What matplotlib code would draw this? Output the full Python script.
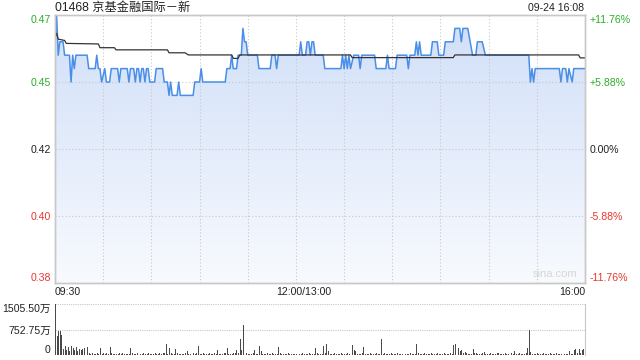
import numpy as np
import matplotlib
matplotlib.use("Agg")
import matplotlib.pyplot as plt
import matplotlib.transforms as mtransforms
from matplotlib.colors import LinearSegmentedColormap

plt.rcParams["font.family"] = ["Liberation Sans", "Noto Sans CJK SC", "DejaVu Sans"]

TITLE = "01468 京基金融国际－新"
STAMP = "09-24 16:08"

# minutes since 09:30 (lunch removed, 330 = 16:00) and price at each turning point
price_min = [0, 1, 2, 3, 5, 6, 9, 10, 11, 12, 13, 20, 21, 25, 26, 27, 28, 29, 31, 32,
             34, 35, 39, 40, 41, 45, 46, 47, 49, 50, 51, 52, 53, 54, 55, 56, 57, 58, 59, 62,
             63, 67, 68, 70, 71, 72, 73, 76, 77, 78, 86, 87, 90, 91, 92, 106, 107, 109, 110, 111,
             113, 114, 116, 117, 118, 119, 120, 126, 127, 134, 135, 137, 138, 139, 152, 153, 154, 156, 157, 158,
             159, 160, 161, 162, 167, 168, 178, 179, 180, 181, 182, 183, 184, 186, 189, 190, 191, 199, 200, 206,
             207, 208, 212, 213, 219, 220, 221, 224, 225, 226, 227, 228, 234, 235, 238, 239, 242, 243, 248, 249,
             252, 253, 254, 257, 260, 262, 263, 266, 268, 295, 296, 297, 298, 299, 314, 315, 316, 318, 319, 320,
             322, 323, 330]
price_val = [0.465, 0.475, 0.46, 0.465, 0.465, 0.46, 0.46, 0.45, 0.46, 0.455, 0.46, 0.46, 0.455, 0.455, 0.46, 0.455, 0.455, 0.45, 0.455, 0.45,
             0.45, 0.455, 0.455, 0.45, 0.455, 0.455, 0.45, 0.455, 0.455, 0.45, 0.455, 0.455, 0.45, 0.455, 0.455, 0.45, 0.455, 0.455, 0.45, 0.45,
             0.455, 0.455, 0.45, 0.45, 0.445, 0.45, 0.445, 0.445, 0.45, 0.445, 0.445, 0.45, 0.45, 0.455, 0.45, 0.45, 0.455, 0.455, 0.46, 0.455,
             0.455, 0.46, 0.46, 0.47, 0.465, 0.465, 0.46, 0.46, 0.455, 0.455, 0.46, 0.46, 0.455, 0.46, 0.46, 0.465, 0.46, 0.46, 0.465, 0.465,
             0.46, 0.465, 0.465, 0.46, 0.46, 0.455, 0.455, 0.46, 0.455, 0.46, 0.455, 0.46, 0.455, 0.46, 0.46, 0.455, 0.46, 0.46, 0.455, 0.455,
             0.46, 0.455, 0.455, 0.46, 0.46, 0.455, 0.46, 0.46, 0.465, 0.46, 0.465, 0.46, 0.46, 0.465, 0.465, 0.46, 0.46, 0.465, 0.465, 0.47,
             0.47, 0.465, 0.47, 0.47, 0.46, 0.46, 0.465, 0.465, 0.46, 0.46, 0.45, 0.455, 0.45, 0.455, 0.455, 0.45, 0.455, 0.455, 0.45, 0.455,
             0.45, 0.455, 0.455]

# average price line
avg_min = [0, 1, 2, 6, 7, 27, 28, 37, 38, 70, 71, 81, 83, 110, 111, 114, 115, 184, 185, 248,
           249, 326, 327, 330]
avg_val = [0.4665, 0.4682, 0.466, 0.4655, 0.4644, 0.4642, 0.4628, 0.4628, 0.462, 0.462, 0.4609, 0.4609, 0.4601, 0.4601, 0.4588, 0.4588, 0.4601, 0.4601, 0.4591, 0.4591,
           0.4601, 0.4601, 0.459, 0.459]

# volume per minute, 万股
volume = [
    1505.5, 570, 717, 717, 590, 180, 275, 150, 240, 120, 260, 200, 150, 230, 110, 190, 140, 170, 200, 120, 230, 60, 35, 45, 30, 40, 55, 35, 216, 40,
    45, 30, 60, 35, 245, 50, 30, 40, 25, 35, 50, 30, 45, 25, 40, 35, 30, 200, 60, 35, 30, 45, 25, 40, 35, 50, 30, 25, 45, 35,
    40, 30, 55, 35, 25, 45, 30, 50, 60, 325, 40, 200, 45, 30, 35, 180, 50, 30, 40, 35, 25, 45, 120, 30, 40, 35, 50, 30, 45, 265,
    40, 30, 45, 35, 25, 40, 50, 30, 35, 45, 30, 140, 40, 35, 30, 45, 60, 215, 40, 30, 35, 50, 45, 150, 70, 480, 160, 885, 130, 50,
    40, 35, 30, 45, 140, 30, 40, 275, 130, 35, 40, 30, 45, 35, 30, 50, 40, 35, 30, 225, 45, 30, 35, 40, 30, 45, 35, 30, 40, 35,
    30, 45, 40, 35, 50, 30, 40, 35, 45, 30, 35, 40, 200, 45, 30, 35, 40, 275, 50, 315, 120, 40, 35, 30, 45, 40, 35, 30, 45, 40,
    35, 30, 45, 40, 35, 295, 160, 110, 40, 35, 30, 45, 235, 40, 35, 30, 45, 40, 35, 30, 45, 40, 35, 480, 30, 45, 40, 35, 30, 45,
    40, 35, 30, 45, 40, 35, 30, 45, 40, 35, 30, 45, 40, 35, 30, 325, 45, 40, 35, 30, 45, 40, 35, 30, 45, 40, 35, 30, 45, 40,
    35, 30, 45, 40, 35, 30, 45, 40, 295, 325, 60, 215, 130, 150, 50, 100, 45, 40, 35, 30, 175, 45, 60, 40, 35, 30, 45, 80, 40, 35,
    30, 45, 40, 35, 30, 45, 60, 40, 35, 30, 45, 40, 35, 30, 45, 40, 118, 35, 30, 45, 40, 35, 30, 45, 206, 740, 100, 40, 35, 30,
    45, 40, 35, 30, 45, 40, 35, 30, 45, 40, 35, 30, 45, 40, 35, 30, 45, 40, 35, 30, 120, 40, 35, 150, 180, 60, 170, 45, 150, 180, 60,
]

price_ticks = [0.375, 0.40, 0.425, 0.45, 0.475]
price_labels = ["0.38", "0.40", "0.42", "0.45", "0.47"]
pct_labels = ["-11.76%", "-5.88%", "0.00%", "+5.88%", "+11.76%"]
tick_colors = ["#e8382f", "#e8382f", "#222222", "#2aae2a", "#2aae2a"]
time_ticks = [0, 150, 330]
time_labels = ["09:30", "12:00/13:00", "16:00"]
vol_ticks = [0, 752.75, 1505.5]
vol_labels = ["0", "752.75万", "1505.50万"]

GRID = "#c8c8c8"
W, H = 640, 360


def draw_price(ax):
    ax.set_xlim(0, 330)
    ax.set_ylim(price_ticks[0], price_ticks[-1])

    for m in range(30, 330, 30):
        ax.axvline(m, color=GRID, lw=0.8, ls=(0, (1, 2)), zorder=1)
    for y in price_ticks[1:-1]:
        ax.axhline(y, color=GRID, lw=0.8, ls=(0, (1, 2)), zorder=1)

    # gradient area under price line
    poly = ax.fill_between(price_min, price_val, price_ticks[0], facecolor="none", edgecolor="none")
    cmap = LinearSegmentedColormap.from_list("fill", ["#f8fafe", "#d0dff8"])
    grad = np.linspace(1, 0, 256).reshape(-1, 1)
    im = ax.imshow(grad, extent=[0, 330, price_ticks[0], price_ticks[-1]], aspect="auto",
                   cmap=cmap, origin="upper", zorder=0.5)
    im.set_clip_path(poly.get_paths()[0], transform=ax.transData)

    ax.plot(price_min, price_val, color="#4a8ee8", lw=1.1, zorder=3)
    ax.plot(avg_min, avg_val, color="#333333", lw=0.9, zorder=4)

    ax.set_xlim(0, 330)
    ax.set_ylim(price_ticks[0], price_ticks[-1])

    ax.set_yticks(price_ticks, price_labels)
    ax.tick_params(axis="y", length=0, pad=3, labelsize=7.6)
    for lab, c in zip(ax.get_yticklabels(), tick_colors):
        lab.set_color(c)
    ax.get_yticklabels()[0].set_va("bottom")
    ax.get_yticklabels()[-1].set_va("top")

    ax.set_xticks(time_ticks, time_labels)
    ax.tick_params(axis="x", length=0, pad=3, labelsize=7.6, colors="#222222")
    xl = ax.get_xticklabels()
    xl[0].set_ha("left")
    xl[-1].set_ha("right")
    # the lunch label sits a little right of the 12:00 line
    shift = mtransforms.ScaledTranslation(8 / 100, 0, ax.figure.dpi_scale_trans)
    xl[1].set_transform(xl[1].get_transform() + shift)

    ax_r = ax.twinx()
    ax_r.set_ylim(price_ticks[0], price_ticks[-1])
    ax_r.set_yticks(price_ticks, pct_labels)
    ax_r.tick_params(axis="y", length=0, pad=3, labelsize=7.6)
    for lab, c in zip(ax_r.get_yticklabels(), tick_colors):
        lab.set_color(c)
    ax_r.get_yticklabels()[0].set_va("bottom")
    ax_r.get_yticklabels()[-1].set_va("top")

    for a in (ax, ax_r):
        for s in a.spines.values():
            s.set_color(GRID)
            s.set_linewidth(1)

    ax.text(0.985, 0.015, "sina.com", transform=ax.transAxes, ha="right", va="bottom",
            fontsize=8, color="#d6d6d6")


def draw_volume(ax):
    ax.bar(range(len(volume)), volume, width=0.6, align="edge", color="#4a4a4a", lw=0)
    ax.set_xlim(0, 330)
    ax.set_ylim(0, vol_ticks[-1])
    for y in vol_ticks[1:]:
        ax.axhline(y, color=GRID, lw=0.8, ls=(0, (1, 1)), zorder=0)
    ax.set_xticks([])
    ax.set_yticks(vol_ticks, vol_labels)
    ax.tick_params(axis="y", length=0, pad=3, labelsize=7.6, colors="#222222")
    ax.get_yticklabels()[0].set_va("bottom")
    ax.get_yticklabels()[-1].set_va("top")
    for side in ("top", "bottom", "left"):
        ax.spines[side].set_visible(False)
    ax.spines["right"].set_color(GRID)


def main():
    fig = plt.figure(figsize=(6.4, 3.6), dpi=100)
    ax = fig.add_axes([55 / W, 1 - 283 / H, 530 / W, 268 / H])
    ax_v = fig.add_axes([55 / W, 1 - 355 / H, 530 / W, 51 / H])

    draw_price(ax)
    draw_volume(ax_v)

    fig.text(55 / W, 1 - 8 / H, TITLE, ha="left", va="center", fontsize=8.8, color="#222222")
    fig.text(584 / W, 1 - 8 / H, STAMP, ha="right", va="center", fontsize=7.6, color="#222222")

    fig.savefig("out.png", dpi=100)


if __name__ == "__main__":
    main()
